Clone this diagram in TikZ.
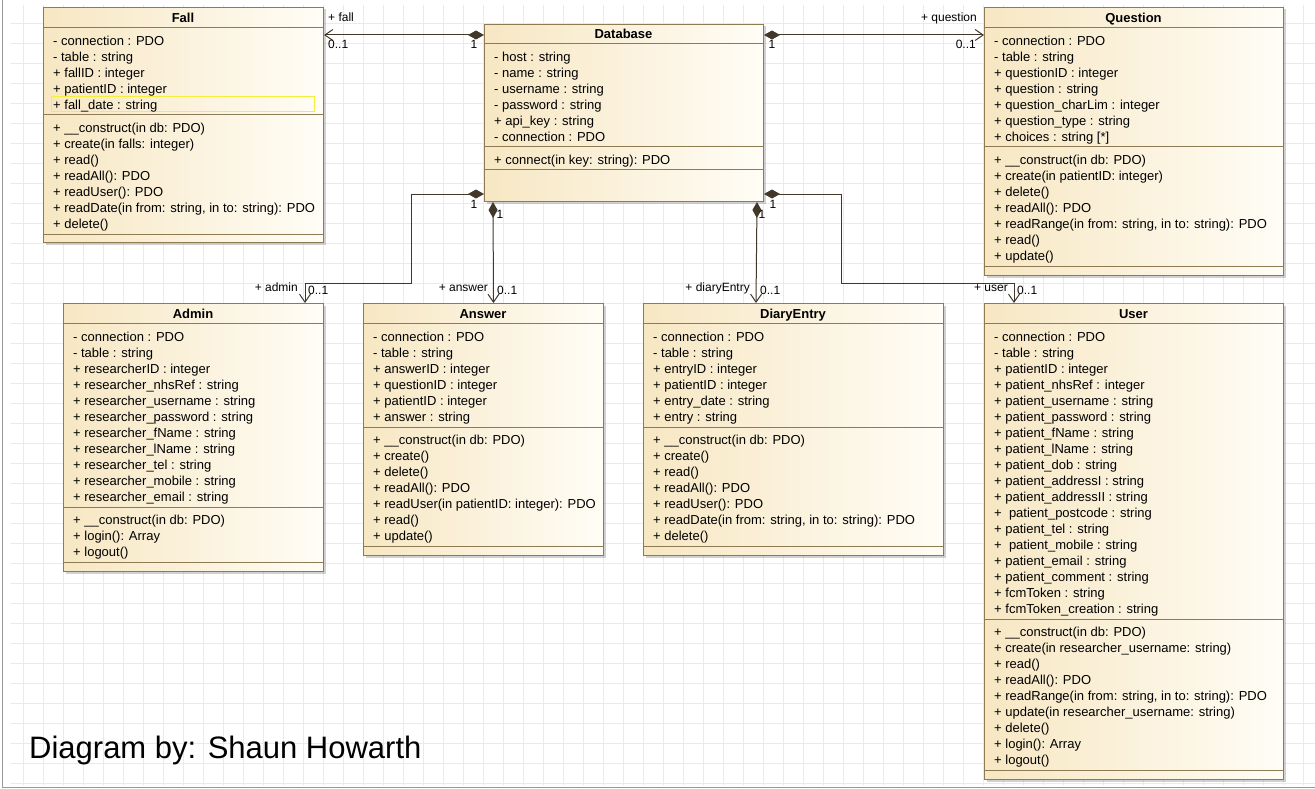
\documentclass[tikz,border=0pt]{standalone}
\usepackage{fontspec}
\setmainfont{Liberation Sans}
\usetikzlibrary{arrows.meta,calc,shadows}
\definecolor{umlfill}{HTML}{F7E7C3}
\definecolor{umlfilltwo}{HTML}{FFFDF6}
\definecolor{umlline}{HTML}{8F7B52}
\definecolor{assoc}{HTML}{42382A}
\definecolor{gridgray}{HTML}{EAEAEA}
\definecolor{hilite}{HTML}{F5EE3A}
\tikzset{
  classbox/.style={draw=umlline, line width=1pt, left color=umlfill, right color=umlfilltwo,
    anchor=north west, inner sep=0pt,
    drop shadow={shadow xshift=2pt, shadow yshift=-2pt, fill=black!40, opacity=0.45}},
  sep/.style={draw=umlline, line width=1pt},
  title/.style={font=\fontsize{13}{15}\selectfont\bfseries, inner sep=0pt, text height=10pt, text depth=2pt, yshift=-1pt},
  member/.style={anchor=west, inner sep=0pt, font=\fontsize{13}{15}\selectfont, text height=10pt, text depth=2pt, yshift=-1.5pt},
  role/.style={inner sep=0pt, font=\fontsize{12}{14}\selectfont, text height=9pt, text depth=2pt},
  comp/.style={draw=assoc, line width=1pt, {Diamond[length=16pt,width=9pt]}-{Straight Barb[length=8pt,width=11pt]}},
  gridline/.style={draw=gridgray, line width=0.8pt}
}
\begin{document}
\begin{tikzpicture}[x=1pt,y=-1pt]
\useasboundingbox (0,0) rectangle (1315,789);
% Background grid
\foreach \gx in {23,43,...,1303} \draw[gridline] (\gx,5) -- (\gx,785);
\foreach \gy in {23,43,...,783} \draw[gridline] (10,\gy) -- (1315,\gy);
\draw[black!40, line width=1pt] (2,0) -- (2,787) -- (1315,787);

% Fall
\node[classbox, minimum width=280pt, minimum height=235pt] (fall) at (43,7) {};
\node[title] (fallT) at (183,17.5) {Fall};
\draw[sep] (43,28) -- (323,28);
\draw[sep] (43,115) -- (323,115);
\draw[sep] (43,234) -- (323,234);
\draw[hilite, line width=1pt] (51.5,96.5) rectangle (314.5,111.5);
\foreach \txt [count=\i from 0] in {- connection : PDO, - table : string, + fallID : integer,
  + patientID : integer, + fall\_date : string}
  \node[member] (fallA\i) at (53,40+16*\i) {\txt};
\foreach \txt [count=\i from 0] in {+ \_\_construct(in db: PDO), + create(in falls: integer), + read(),
  + readAll(): PDO, + readUser(): PDO, {+ readDate(in from: string, in to: string): PDO}, + delete()}
  \node[member] (fallM\i) at (53,127+16*\i) {\txt};

% Database
\node[classbox, minimum width=279pt, minimum height=177pt] (db) at (484,24) {};
\node[title] (dbT) at (623.5,34) {Database};
\draw[sep] (484,44) -- (763,44);
\draw[sep] (484,147) -- (763,147);
\draw[sep] (484,170) -- (763,170);
\foreach \txt [count=\i from 0] in {- host : string, - name : string, - username : string,
  - password : string, + api\_key : string, - connection : PDO}
  \node[member] (dbA\i) at (494,56+16*\i) {\txt};
\node[member] (dbM0) at (494,159) {+ connect(in key: string): PDO};

% Question
\node[classbox, minimum width=299pt, minimum height=268pt] (question) at (984,7) {};
\node[title] (questionT) at (1133.5,17.5) {Question};
\draw[sep] (984,28) -- (1283,28);
\draw[sep] (984,147) -- (1283,147);
\draw[sep] (984,266) -- (1283,266);
\foreach \txt [count=\i from 0] in {- connection : PDO, - table : string, + questionID : integer,
  + question : string, + question\_charLim : integer, + question\_type : string, {+ choices : string [*]}}
  \node[member] (questionA\i) at (994,40+16*\i) {\txt};
\foreach \txt [count=\i from 0] in {+ \_\_construct(in db: PDO), + create(in patientID: integer), + delete(),
  + readAll(): PDO, {+ readRange(in from: string, in to: string): PDO}, + read(), + update()}
  \node[member] (questionM\i) at (994,159+16*\i) {\txt};

% Admin
\node[classbox, minimum width=260pt, minimum height=268pt] (admin) at (63,303) {};
\node[title] (adminT) at (193,313.5) {Admin};
\draw[sep] (63,323) -- (323,323);
\draw[sep] (63,507) -- (323,507);
\draw[sep] (63,562) -- (323,562);
\foreach \txt [count=\i from 0] in {- connection : PDO, - table : string, + researcherID : integer,
  + researcher\_nhsRef : string, + researcher\_username : string, + researcher\_password : string,
  + researcher\_fName : string, + researcher\_lName : string, + researcher\_tel : string,
  + researcher\_mobile : string, + researcher\_email : string}
  \node[member] (adminA\i) at (73,336+16*\i) {\txt};
\foreach \txt [count=\i from 0] in {+ \_\_construct(in db: PDO), + login(): Array, + logout()}
  \node[member] (adminM\i) at (73,519+16*\i) {\txt};

% Answer
\node[classbox, minimum width=240pt, minimum height=252pt] (answer) at (363,303) {};
\node[title] (answerT) at (483,313.5) {Answer};
\draw[sep] (363,323) -- (603,323);
\draw[sep] (363,427) -- (603,427);
\draw[sep] (363,546) -- (603,546);
\foreach \txt [count=\i from 0] in {- connection : PDO, - table : string, + answerID : integer,
  + questionID : integer, + patientID : integer, + answer : string}
  \node[member] (answerA\i) at (373,336+16*\i) {\txt};
\foreach \txt [count=\i from 0] in {+ \_\_construct(in db: PDO), + create(), + delete(), + readAll(): PDO,
  + readUser(in patientID: integer): PDO, + read(), + update()}
  \node[member] (answerM\i) at (373,439+16*\i) {\txt};

% DiaryEntry
\node[classbox, minimum width=300pt, minimum height=252pt] (diary) at (643,303) {};
\node[title] (diaryT) at (793,313.5) {DiaryEntry};
\draw[sep] (643,323) -- (943,323);
\draw[sep] (643,427) -- (943,427);
\draw[sep] (643,546) -- (943,546);
\foreach \txt [count=\i from 0] in {- connection : PDO, - table : string, + entryID : integer,
  + patientID : integer, + entry\_date : string, + entry : string}
  \node[member] (diaryA\i) at (653,336+16*\i) {\txt};
\foreach \txt [count=\i from 0] in {+ \_\_construct(in db: PDO), + create(), + read(), + readAll(): PDO,
  + readUser(): PDO, {+ readDate(in from: string, in to: string): PDO}, + delete()}
  \node[member] (diaryM\i) at (653,439+16*\i) {\txt};

% User
\node[classbox, minimum width=299pt, minimum height=476pt] (user) at (984,303) {};
\node[title] (userT) at (1133.5,313.5) {User};
\draw[sep] (984,323) -- (1283,323);
\draw[sep] (984,619) -- (1283,619);
\draw[sep] (984,770) -- (1283,770);
\foreach \txt [count=\i from 0] in {- connection : PDO, - table : string, + patientID : integer,
  + patient\_nhsRef : integer, + patient\_username : string, + patient\_password : string,
  + patient\_fName : string, + patient\_lName : string, + patient\_dob : string,
  + patient\_addressI : string, + patient\_addressII : string, +\ \ patient\_postcode : string,
  + patient\_tel : string, +\ \ patient\_mobile : string, + patient\_email : string,
  + patient\_comment : string, + fcmToken : string, + fcmToken\_creation : string}
  \node[member] (userA\i) at (994,336+16*\i) {\txt};
\foreach \txt [count=\i from 0] in {+ \_\_construct(in db: PDO), + create(in researcher\_username: string),
  + read(), + readAll(): PDO, {+ readRange(in from: string, in to: string): PDO},
  + update(in researcher\_username: string), + delete(), + login(): Array, + logout()}
  \node[member] (userM\i) at (994,631+16*\i) {\txt};

% Associations
\coordinate (dbL) at ($(db.south west)+(0,-8)$);
\coordinate (dbR) at ($(db.south east)+(0,-8)$);
\coordinate (adminIn) at ($(admin.north east)+(-19,0)$);
\coordinate (userIn) at ($(user.north west)+(30,0)$);
\draw[comp] (db.west |- dbT) -- (fall.east |- dbT);
\draw[comp] (db.east |- dbT) -- (question.west |- dbT);
\draw[comp] (dbL) -| (411,283) -| (adminIn);
\draw[comp] ($(db.south west)+(9,0)$) -- ($(answer.north)+(10,0)$);
\draw[comp] ($(db.south east)+(-7,0)$) -- ($(diary.north west)+(113,0)$);
\draw[comp] (dbR) -| (841,283) -| (userIn);

% Labels
\node[role, anchor=west] (fallRole) at (328,18) {+ fall};
\node[role, anchor=west] (fallMult) at (328,45) {0..1};
\node[role] (fallOne) at (474,45) {1};
\node[role, anchor=east] (questionRole) at (977,18) {+ question};
\node[role, anchor=east] (questionMult) at (976,45) {0..1};
\node[role] (questionOne) at (772,45) {1};
\node[role, anchor=east] (adminRole) at (298,288) {+ admin};
\node[role, anchor=west] (adminMult) at (308,291) {0..1};
\node[role] (adminOne) at (474,205) {1};
\node[role, anchor=east] (answerRole) at (488,288) {+ answer};
\node[role, anchor=west] (answerMult) at (497,291) {0..1};
\node[role] (answerOne) at (500,215) {1};
\node[role, anchor=east] (diaryRole) at (750,288) {+ diaryEntry};
\node[role, anchor=west] (diaryMult) at (760,291) {0..1};
\node[role] (diaryOne) at (762,215) {1};
\node[role, anchor=east] (userRole) at (1008,288) {+ user};
\node[role, anchor=west] (userMult) at (1017,291) {0..1};
\node[role] (userOne) at (773,205) {1};

% Credit
\node[anchor=base west, inner sep=0pt, font=\fontsize{31}{36}\selectfont] (credit) at (29,758) {Diagram by: Shaun Howarth};
\end{tikzpicture}
\end{document}
